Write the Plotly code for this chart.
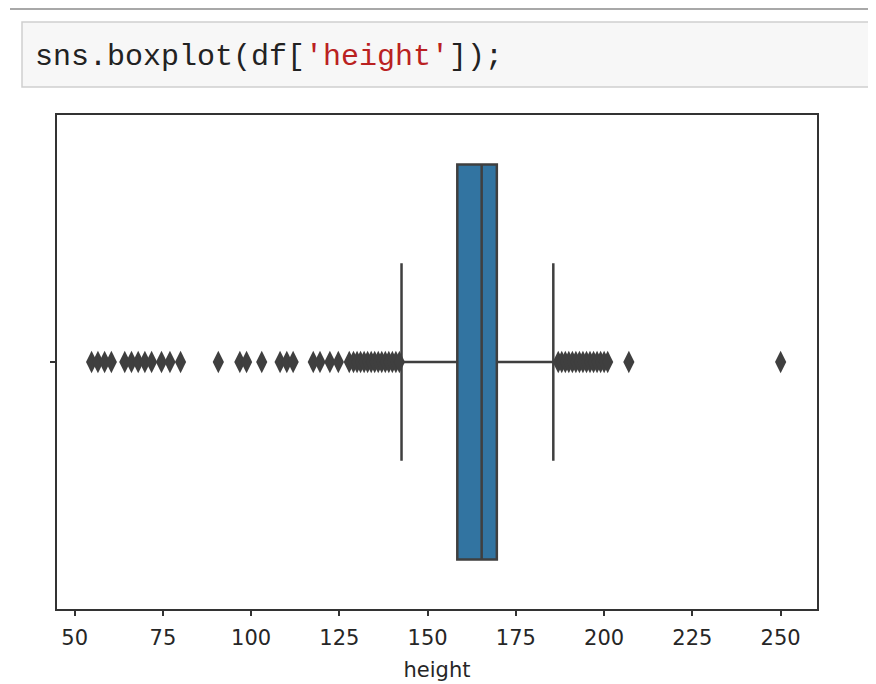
import plotly.graph_objects as go

# ---- data ----
q1 = [158.4]
median = [165.3]
q3 = [169.6]
lower_whisker = [142.6]
upper_whisker = [185.6]

low_outliers = [54.8, 56.6, 58.5, 60.4, 64.2, 66.1, 68.0, 69.9, 71.8, 74.6, 77.0, 80.0,
                90.7, 96.8, 98.7, 103.0, 108.2, 110.1, 111.9, 117.6, 119.5, 122.3, 124.7,
                127.8, 129.0, 130.0, 131.0, 132.0, 133.0, 134.0, 135.0, 136.0, 137.0,
                138.0, 139.0, 140.0, 141.0, 142.0]
high_outliers = [187.0, 188.0, 189.0, 190.0, 191.0, 192.0, 193.0, 194.0, 195.0, 196.0,
                 197.0, 198.0, 199.0, 200.0, 201.0, 207.0, 250.0]

x_ticks = [50, 75, 100, 125, 150, 175, 200, 225, 250]
x_label = "height"
code_plain = "sns.boxplot(df["
code_string = "'height'"
code_tail = "]);"

# ---- layout geometry (pixels, page has an 8px body margin) ----
OFF = 8
W, H = 876 - OFF, 684 - OFF
L, R, T, B = 57 - OFF, 817 - OFF, 115 - OFF, 609 - OFF
PW, PH = R - L, B - T


def px(x):
    return (x - OFF - L) / PW


def py(y):
    return (B - (y - OFF)) / PH


line_col = "#3f3f3f"
outliers = low_outliers + high_outliers

fig = go.Figure()
fig.add_trace(go.Box(
    y=[0], q1=q1, median=median, q3=q3,
    lowerfence=lower_whisker, upperfence=upper_whisker,
    orientation="h", width=0.8, whiskerwidth=0.5,
    fillcolor="#3274a1", line=dict(color=line_col, width=2.5),
    boxpoints=False, showlegend=False, hoverinfo="skip",
))
fig.add_trace(go.Scatter(
    x=outliers, y=[0] * len(outliers), mode="markers",
    marker=dict(symbol="diamond-tall", size=16, color=line_col,
                line=dict(width=0)),
    showlegend=False, hoverinfo="skip",
))

shapes = [
    # notebook separator line
    dict(type="line", xref="paper", yref="paper", x0=px(10), x1=px(880),
         y0=py(9), y1=py(9), line=dict(color="#a8a8a8", width=2), layer="below"),
    # code cell box
    dict(type="rect", xref="paper", yref="paper", x0=px(22), x1=px(890),
         y0=py(87), y1=py(22), fillcolor="#f7f7f7",
         line=dict(color="#cfcfcf", width=1.5), layer="below"),
]

annotations = [
    dict(xref="paper", yref="paper", x=px(33), y=py(57), xanchor="left", yanchor="middle",
         showarrow=False,
         text=code_plain + '<span style="color:#ba2121">' + code_string + "</span>" + code_tail,
         font=dict(family="Liberation Mono, monospace", size=30, color="#222222")),
]

fig.update_layout(
    width=W, height=H,
    margin=dict(l=L, r=W - R, t=T, b=H - B, pad=0, autoexpand=False),
    paper_bgcolor="white", plot_bgcolor="white",
    shapes=shapes, annotations=annotations,
    font=dict(family="DejaVu Sans, sans-serif", color="#262626"),
)
fig.update_xaxes(
    range=[45.0, 260.3], tickvals=x_ticks, ticktext=[str(t) for t in x_ticks],
    ticks="outside", ticklen=5, tickwidth=1.5, tickcolor="#333333",
    ticklabelstandoff=4, automargin=False,
    tickfont=dict(size=21, color="#262626"),
    showline=True, linecolor="#333333", linewidth=2, mirror=True,
    showgrid=False, zeroline=False,
    title=dict(text=x_label, font=dict(size=21, color="#262626"), standoff=13),
)
fig.update_yaxes(
    range=[-0.5, 0.5], tickvals=[0], ticktext=[""], automargin=False,
    ticks="outside", ticklen=5, tickwidth=1.5, tickcolor="#333333",
    showline=True, linecolor="#333333", linewidth=2, mirror=True,
    showgrid=False, zeroline=False,
)

fig.write_html("out.html")
